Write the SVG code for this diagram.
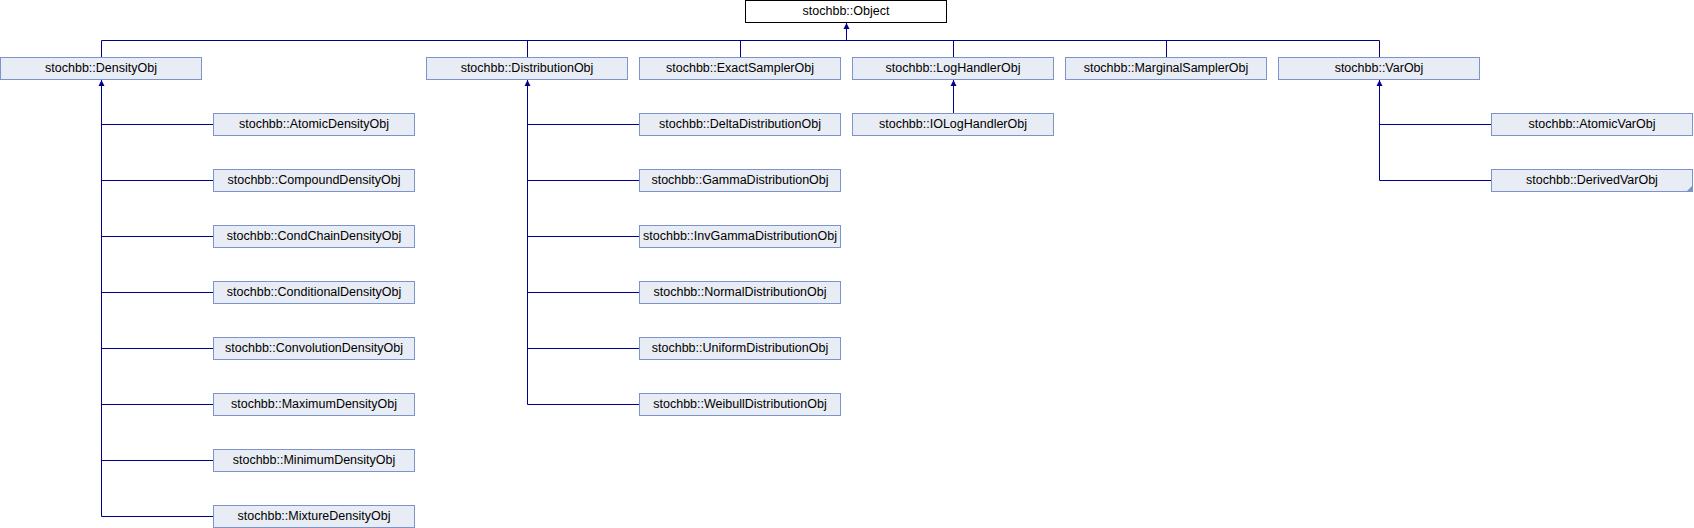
<svg xmlns="http://www.w3.org/2000/svg" width="1694" height="528" viewBox="0 0 1694 528">
<style>
.n rect{fill:#e8ecf4;stroke:#7d93cb;stroke-width:1}
.root rect{fill:#ffffff;stroke:#000000;stroke-width:1}
text{font-family:"Liberation Sans",Arial,Helvetica,sans-serif;font-size:12.5px;fill:#000000;text-anchor:middle}
.c path{fill:none;stroke:#00008b;stroke-width:1}
.c polygon{fill:#00008b;stroke:none}
.corner{fill:#7d93cb}
</style>
<rect width="1694" height="528" fill="#ffffff"/>
<g class="c" id="connectors">
<path d="M846.5 23 V40.5 M101.5 40.5 H1379.5 M101.5 40.5 V57 M527.5 40.5 V57 M740.5 40.5 V57 M953.5 40.5 V57 M1166.5 40.5 V57 M1379.5 40.5 V57"/>
<polygon points="846.5,23 843.5,29 849.5,29"/>
<path d="M101.5 80 V516.5 M101.5 124.5 H213 M101.5 180.5 H213 M101.5 236.5 H213 M101.5 292.5 H213 M101.5 348.5 H213 M101.5 404.5 H213 M101.5 460.5 H213 M101.5 516.5 H213"/>
<polygon points="101.5,80 98.5,86 104.5,86"/>
<path d="M527.5 80 V404.5 M527.5 124.5 H639 M527.5 180.5 H639 M527.5 236.5 H639 M527.5 292.5 H639 M527.5 348.5 H639 M527.5 404.5 H639"/>
<polygon points="527.5,80 524.5,86 530.5,86"/>
<path d="M953.5 80 V113"/>
<polygon points="953.5,80 950.5,86 956.5,86"/>
<path d="M1379.5 80 V180.5 M1379.5 124.5 H1491 M1379.5 180.5 H1491"/>
<polygon points="1379.5,80 1376.5,86 1382.5,86"/>
</g>
<g id="Object" class="root"><rect x="745.5" y="0.5" width="201" height="22"/><text x="846" y="15">stochbb::Object</text></g>
<g id="DensityObj" class="n"><rect x="0.5" y="57.5" width="201" height="22"/><text x="101" y="72">stochbb::DensityObj</text></g>
<g id="DistributionObj" class="n"><rect x="426.5" y="57.5" width="201" height="22"/><text x="527" y="72">stochbb::DistributionObj</text></g>
<g id="ExactSamplerObj" class="n"><rect x="639.5" y="57.5" width="201" height="22"/><text x="740" y="72">stochbb::ExactSamplerObj</text></g>
<g id="LogHandlerObj" class="n"><rect x="852.5" y="57.5" width="201" height="22"/><text x="953" y="72">stochbb::LogHandlerObj</text></g>
<g id="MarginalSamplerObj" class="n"><rect x="1065.5" y="57.5" width="201" height="22"/><text x="1166" y="72">stochbb::MarginalSamplerObj</text></g>
<g id="VarObj" class="n"><rect x="1278.5" y="57.5" width="201" height="22"/><text x="1379" y="72">stochbb::VarObj</text></g>
<g id="AtomicDensityObj" class="n"><rect x="213.5" y="113.5" width="201" height="22"/><text x="314" y="128">stochbb::AtomicDensityObj</text></g>
<g id="CompoundDensityObj" class="n"><rect x="213.5" y="169.5" width="201" height="22"/><text x="314" y="184">stochbb::CompoundDensityObj</text></g>
<g id="CondChainDensityObj" class="n"><rect x="213.5" y="225.5" width="201" height="22"/><text x="314" y="240">stochbb::CondChainDensityObj</text></g>
<g id="ConditionalDensityObj" class="n"><rect x="213.5" y="281.5" width="201" height="22"/><text x="314" y="296">stochbb::ConditionalDensityObj</text></g>
<g id="ConvolutionDensityObj" class="n"><rect x="213.5" y="337.5" width="201" height="22"/><text x="314" y="352">stochbb::ConvolutionDensityObj</text></g>
<g id="MaximumDensityObj" class="n"><rect x="213.5" y="393.5" width="201" height="22"/><text x="314" y="408">stochbb::MaximumDensityObj</text></g>
<g id="MinimumDensityObj" class="n"><rect x="213.5" y="449.5" width="201" height="22"/><text x="314" y="464">stochbb::MinimumDensityObj</text></g>
<g id="MixtureDensityObj" class="n"><rect x="213.5" y="505.5" width="201" height="22"/><text x="314" y="520">stochbb::MixtureDensityObj</text></g>
<g id="DeltaDistributionObj" class="n"><rect x="639.5" y="113.5" width="201" height="22"/><text x="740" y="128">stochbb::DeltaDistributionObj</text></g>
<g id="GammaDistributionObj" class="n"><rect x="639.5" y="169.5" width="201" height="22"/><text x="740" y="184">stochbb::GammaDistributionObj</text></g>
<g id="InvGammaDistributionObj" class="n"><rect x="639.5" y="225.5" width="201" height="22"/><text x="740" y="240">stochbb::InvGammaDistributionObj</text></g>
<g id="NormalDistributionObj" class="n"><rect x="639.5" y="281.5" width="201" height="22"/><text x="740" y="296">stochbb::NormalDistributionObj</text></g>
<g id="UniformDistributionObj" class="n"><rect x="639.5" y="337.5" width="201" height="22"/><text x="740" y="352">stochbb::UniformDistributionObj</text></g>
<g id="WeibullDistributionObj" class="n"><rect x="639.5" y="393.5" width="201" height="22"/><text x="740" y="408">stochbb::WeibullDistributionObj</text></g>
<g id="IOLogHandlerObj" class="n"><rect x="852.5" y="113.5" width="201" height="22"/><text x="953" y="128">stochbb::IOLogHandlerObj</text></g>
<g id="AtomicVarObj" class="n"><rect x="1491.5" y="113.5" width="201" height="22"/><text x="1592" y="128">stochbb::AtomicVarObj</text></g>
<g id="DerivedVarObj" class="n"><rect x="1491.5" y="169.5" width="201" height="22"/><text x="1592" y="184">stochbb::DerivedVarObj</text><polygon class="corner" points="1693,185 1693,192 1686,192"/></g>
</svg>
